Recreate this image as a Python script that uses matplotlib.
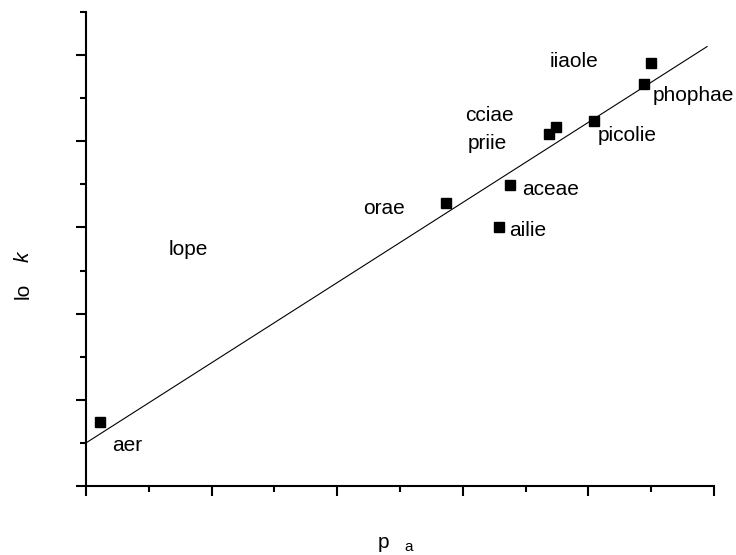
import matplotlib.pyplot as plt
from matplotlib.ticker import MultipleLocator

plt.rcParams['font.family'] = ['Liberation Sans', 'DejaVu Sans']

# measured points
names = ['aer', 'orae', 'aceae', 'ailie', 'priie', 'cciae', 'picolie', 'phophae', 'iiaole']
pka = [0.22, 5.73, 6.75, 6.58, 7.37, 7.48, 8.09, 8.89, 9.00]
logk = [0.74, 3.28, 3.49, 3.00, 4.09, 4.16, 4.24, 4.66, 4.91]

# least-squares line as drawn
fit_intercept = 0.50
fit_slope = 0.465
fit_x = [0.0, 9.89]

# where each name is written (left edge, vertical centre)
label_pos = {
    'aer': (0.41, 0.47),
    'orae': (4.41, 3.22),
    'aceae': (6.94, 3.44),
    'ailie': (6.74, 2.96),
    'priie': (6.07, 3.97),
    'cciae': (6.04, 4.30),
    'picolie': (8.15, 4.07),
    'phophae': (9.03, 4.53),
    'iiaole': (7.39, 4.93),
}

fig = plt.figure(figsize=(7.36, 5.55), dpi=100)
ax = fig.add_axes([86 / 736, 1 - 486 / 555, 628 / 736, 474 / 555])

ax.plot(pka, logk, 's', color='black', markersize=7)
ax.plot(fit_x, [fit_intercept + fit_slope * x for x in fit_x], color='black', lw=0.8)

for n in names:
    lx, ly = label_pos[n]
    ax.text(lx, ly, n, fontsize=15, va='center', ha='left')
ax.text(1.31, 2.74, 'lope', fontsize=15, va='center', ha='left')

ax.set_xlim(0, 10)
ax.set_ylim(0, 5.5)
ax.xaxis.set_major_locator(MultipleLocator(2))
ax.xaxis.set_minor_locator(MultipleLocator(1))
ax.yaxis.set_major_locator(MultipleLocator(1))
ax.yaxis.set_minor_locator(MultipleLocator(0.5))
ax.tick_params(which='both', direction='out', width=1.5, labelbottom=False, labelleft=False)
ax.tick_params(which='major', length=7)
ax.tick_params(which='minor', length=4)
for s in ['top', 'right']:
    ax.spines[s].set_visible(False)
for s in ['left', 'bottom']:
    ax.spines[s].set_linewidth(1.5)

# axis titles
fig.text(23 / 736, 1 - 291 / 555, 'lo', rotation=90, fontsize=15, ha='center', va='center')
fig.text(23 / 736, 1 - 257 / 555, 'k', rotation=90, fontsize=15, style='italic', ha='center', va='center')
fig.text(383 / 736, 1 - 542 / 555, 'p', fontsize=15, ha='center', va='center')
fig.text(409 / 736, 1 - 547 / 555, 'a', fontsize=11, ha='center', va='center')

fig.savefig('out.png', dpi=100)
